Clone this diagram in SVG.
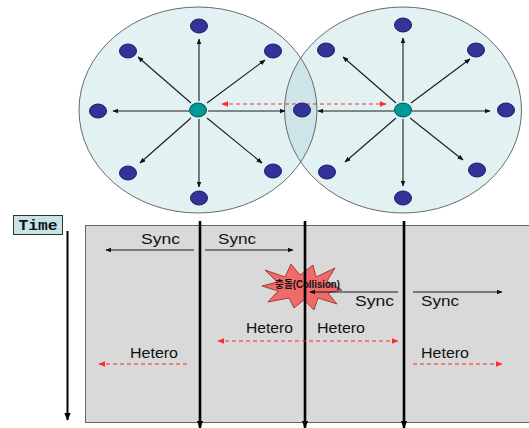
<svg xmlns="http://www.w3.org/2000/svg" width="529" height="428" viewBox="0 0 529 428">
  <style>
    .cell { fill: #e2f2f3; }
    .cell-edge { fill: none; stroke: #6a6a6a; stroke-width: 1; }
    .overlap { fill: #cde4e8; }
    .node { fill: #333399; stroke: #1c1c66; stroke-width: 1; }
    .hub { fill: #009999; stroke: #005555; stroke-width: 1; }
    .ray { stroke: #1a1a1a; stroke-width: 1.1; fill: none; marker-end: url(#tip); }
    .sig { stroke: #1a1a1a; stroke-width: 1; fill: none; marker-end: url(#tip); }
    .het { stroke: #ff2a2a; stroke-width: 1.1; stroke-dasharray: 4 3; fill: none; marker-end: url(#rtip); }
    .lane { stroke: #000; stroke-width: 2.6; fill: none; marker-end: url(#btip); }
    .lbl { font-family: "Liberation Sans", Arial, sans-serif; font-size: 15px; fill: #111; }
  </style>
  <defs>
    <marker id="tip" viewBox="0 0 10 10" refX="9" refY="5" markerWidth="6" markerHeight="6" markerUnits="userSpaceOnUse" orient="auto">
      <path d="M0,1 L10,5 L0,9 Z" fill="#111"/>
    </marker>
    <marker id="rtip" viewBox="0 0 10 10" refX="9" refY="5" markerWidth="7" markerHeight="7" markerUnits="userSpaceOnUse" orient="auto">
      <path d="M0,1 L10,5 L0,9 Z" fill="#ff2a2a"/>
    </marker>
    <marker id="rtip-start" viewBox="0 0 10 10" refX="1" refY="5" markerWidth="7" markerHeight="7" markerUnits="userSpaceOnUse" orient="auto">
      <path d="M10,1 L0,5 L10,9 Z" fill="#ff2a2a"/>
    </marker>
    <marker id="btip" viewBox="0 0 10 10" refX="9" refY="5" markerWidth="8" markerHeight="8" markerUnits="userSpaceOnUse" orient="auto">
      <path d="M0,1 L10,5 L0,9 Z" fill="#000"/>
    </marker>
    <clipPath id="leftCell">
      <ellipse cx="198" cy="110" rx="119" ry="103"/>
    </clipPath>
  </defs>

  <!-- coverage areas of the two access points -->
  <g id="cells">
    <ellipse class="cell" cx="198" cy="110" rx="119" ry="103"/>
    <ellipse class="cell" cx="403" cy="110" rx="118.5" ry="103"/>
    <ellipse class="overlap" cx="403" cy="110" rx="118.5" ry="103" clip-path="url(#leftCell)"/>
    <ellipse class="cell-edge" cx="198" cy="110" rx="119" ry="103"/>
    <ellipse class="cell-edge" cx="403" cy="110" rx="118.5" ry="103"/>
  </g>

  <!-- broadcast rays, signalling arrows, time lanes -->
  <g id="connectors">
    <!-- left hub rays -->
    <line class="ray" x1="199" y1="101" x2="199" y2="39"/>
    <line class="ray" x1="191" y1="103" x2="138" y2="57"/>
    <line class="ray" x1="207" y1="103" x2="265" y2="60"/>
    <line class="ray" x1="189" y1="111" x2="113" y2="111"/>
    <line class="ray" x1="208" y1="111" x2="285" y2="111"/>
    <line class="ray" x1="191" y1="118" x2="140" y2="163"/>
    <line class="ray" x1="207" y1="118" x2="262" y2="163"/>
    <line class="ray" x1="199" y1="119" x2="199" y2="187"/>
    <!-- right hub rays -->
    <line class="ray" x1="403" y1="101" x2="403" y2="38"/>
    <line class="ray" x1="396" y1="103" x2="343" y2="57"/>
    <line class="ray" x1="411" y1="103" x2="470" y2="59"/>
    <line class="ray" x1="394" y1="111" x2="318" y2="111"/>
    <line class="ray" x1="412" y1="111" x2="490" y2="111"/>
    <line class="ray" x1="396" y1="118" x2="345" y2="162"/>
    <line class="ray" x1="410" y1="118" x2="463" y2="160"/>
    <line class="ray" x1="403" y1="119" x2="403" y2="186"/>
    <!-- hub-to-hub heterogeneous link -->
    <line class="het" x1="222" y1="104" x2="386" y2="104" marker-start="url(#rtip-start)"/>
  </g>

  <!-- hubs and stations -->
  <g id="hub-left"><ellipse class="hub" cx="198" cy="110" rx="8.5" ry="7"/></g>
  <g id="hub-right"><ellipse class="hub" cx="403" cy="110" rx="8.5" ry="7"/></g>
  <g id="sta-l-n"><ellipse class="node" cx="199" cy="26" rx="8.5" ry="7"/></g>
  <g id="sta-l-nw"><ellipse class="node" cx="128" cy="51" rx="8.5" ry="7"/></g>
  <g id="sta-l-ne"><ellipse class="node" cx="273" cy="51" rx="8.5" ry="7"/></g>
  <g id="sta-l-w"><ellipse class="node" cx="98" cy="111" rx="8.5" ry="7"/></g>
  <g id="sta-shared"><ellipse class="node" cx="302" cy="110" rx="8.5" ry="7"/></g>
  <g id="sta-l-sw"><ellipse class="node" cx="128" cy="173" rx="8.5" ry="7"/></g>
  <g id="sta-l-se"><ellipse class="node" cx="273" cy="171" rx="8.5" ry="7"/></g>
  <g id="sta-l-s"><ellipse class="node" cx="199" cy="198" rx="8.5" ry="7"/></g>
  <g id="sta-r-n"><ellipse class="node" cx="403" cy="25" rx="8.5" ry="7"/></g>
  <g id="sta-r-nw"><ellipse class="node" cx="326" cy="50" rx="8.5" ry="7"/></g>
  <g id="sta-r-ne"><ellipse class="node" cx="476" cy="50" rx="8.5" ry="7"/></g>
  <g id="sta-r-e"><ellipse class="node" cx="506" cy="110" rx="8.5" ry="7"/></g>
  <g id="sta-r-sw"><ellipse class="node" cx="327" cy="172" rx="8.5" ry="7"/></g>
  <g id="sta-r-se"><ellipse class="node" cx="477" cy="170" rx="8.5" ry="7"/></g>
  <g id="sta-r-s"><ellipse class="node" cx="403" cy="198" rx="8.5" ry="7"/></g>

  <!-- timeline panel -->
  <g id="time-label">
    <rect x="13.5" y="215.5" width="49" height="19" fill="#c4e4e8" stroke="#333" stroke-width="1"/>
    <text x="38" y="230" text-anchor="middle" font-family="'Liberation Mono', 'Courier New', monospace" font-weight="bold" font-size="14" textLength="39" lengthAdjust="spacingAndGlyphs" fill="#111">Time</text>
  </g>
  <g id="time-axis">
    <line x1="67.5" y1="231" x2="67.5" y2="420" stroke="#000" stroke-width="2" marker-end="url(#btip)"/>
  </g>
  <g id="panel">
    <rect x="85.5" y="225.5" width="450" height="197" fill="#d9d9d9" stroke="#666" stroke-width="1"/>
  </g>

  <!-- collision burst -->
  <g id="collision">
    <polygon points="265,270 285,277 291,264 300,275 313,265 316,277 335,268 327,281 342,290 328,293 337,304 318,298 314,310 304,300 294,308 289,298 268,302 278,291 262,286 277,282" fill="#f06a6a" stroke="#8a2a2a" stroke-width="0.8"/>
  </g>

  <g id="timeline-connectors">
    <line class="lane" x1="200" y1="221" x2="200" y2="428"/>
    <line class="lane" x1="305" y1="221" x2="305" y2="428"/>
    <line class="lane" x1="404" y1="221" x2="404" y2="428"/>
    <!-- sync beacons -->
    <line class="sig" x1="194" y1="250" x2="106" y2="250"/>
    <line class="sig" x1="205" y1="250" x2="293" y2="250"/>
    <line class="sig" x1="398" y1="292" x2="310" y2="292"/>
    <line class="sig" x1="413" y1="292" x2="502" y2="292"/>
    <!-- heterogeneous frames -->
    <line class="het" x1="218" y1="341" x2="398" y2="341" marker-start="url(#rtip-start)"/>
    <line class="het" x1="187" y1="364" x2="99" y2="364"/>
    <line class="het" x1="413" y1="364" x2="502" y2="364"/>
  </g>

  <g id="labels">
    <text class="lbl" x="141" y="244" textLength="39" lengthAdjust="spacingAndGlyphs">Sync</text>
    <text class="lbl" x="218" y="244" textLength="38" lengthAdjust="spacingAndGlyphs">Sync</text>
    <text class="lbl" x="355" y="306" textLength="39" lengthAdjust="spacingAndGlyphs">Sync</text>
    <text class="lbl" x="421" y="306" textLength="38" lengthAdjust="spacingAndGlyphs">Sync</text>
    <text class="lbl" x="246" y="333" textLength="47" lengthAdjust="spacingAndGlyphs">Hetero</text>
    <text class="lbl" x="317" y="333" textLength="48" lengthAdjust="spacingAndGlyphs">Hetero</text>
    <text class="lbl" x="130" y="358" textLength="48" lengthAdjust="spacingAndGlyphs">Hetero</text>
    <text class="lbl" x="421" y="358" textLength="48" lengthAdjust="spacingAndGlyphs">Hetero</text>
    <text x="275" y="288" font-family="'Liberation Sans', 'Noto Sans CJK KR', sans-serif" font-weight="bold" font-size="10" textLength="65" lengthAdjust="spacingAndGlyphs" fill="#111">충돌(Collision)</text>
  </g>
</svg>
